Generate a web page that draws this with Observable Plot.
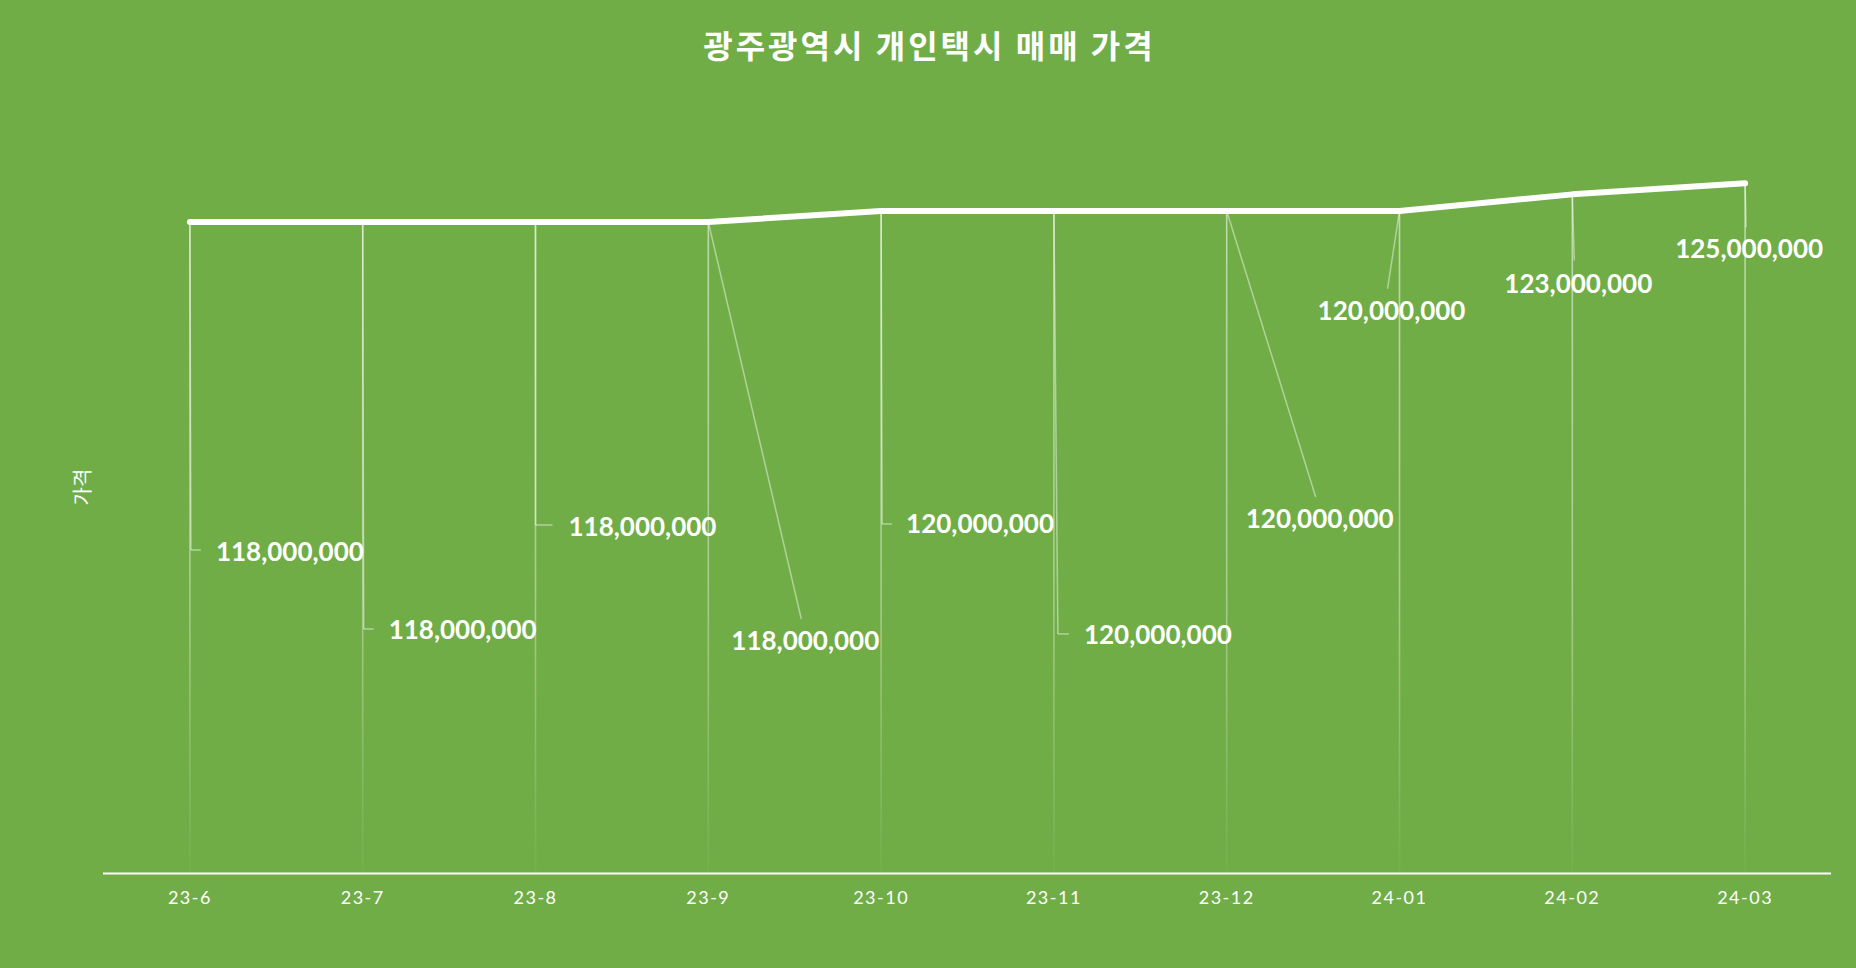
<!DOCTYPE html>
<html><head><meta charset="utf-8">
<script src="https://cdn.jsdelivr.net/npm/d3@7"></script>
<script src="https://cdn.jsdelivr.net/npm/@observablehq/plot@0.6"></script>
<style>
html,body{margin:0;padding:0;background:#70AD47;}
#chart{width:1856px;height:968px;background:#70AD47;overflow:hidden;}
#title{height:88px;line-height:88px;text-align:center;color:#fff;font-family:"Noto Sans CJK KR",sans-serif;font-weight:700;font-size:32px;letter-spacing:3px;padding-left:3px;}
[aria-label="x-axis tick label"] text{letter-spacing:1.5px;}
</style></head><body>
<div id="chart"><div id="title"></div></div>
<script>
const title = "광주광역시 개인택시 매매 가격";
const yLabel = "가격";
const months = ["23-6","23-7","23-8","23-9","23-10","23-11","23-12","24-01","24-02","24-03"];
const prices = [118000000,118000000,118000000,118000000,120000000,120000000,120000000,120000000,123000000,125000000];

// label layout: pixel offsets from each data point (styling only)
const labelAnchor = ["start","start","start","middle","start","start","middle","middle","middle","middle"];
const labelDx = [26,26,33,97,25,30,93,-8,6,4];
const labelDy = [331,409,306,420,314,425,309,101,90,66];
const leaderDx = [1,1,0,93,1,4,89,-12,2,1];
const leaderDy = [328,407,303,397,313,423,286,78,66,44];
const tickDx = [11,11,17,null,11,15,null,null,null,null];

document.getElementById("title").textContent = title;

const data = months.map((m, i) => ({month: m, price: prices[i], i}));
const fmt = d3.format(",");

const shift = (fx) => (index, scales, values, dim, ctx, next) => {
  const v = {...values};
  for (const [k, off] of Object.entries(fx)) {
    v[k] = Float64Array.from(values[k], (p, i) => p + (typeof off === "function" ? off(i) : off[i]));
  }
  return next(index, scales, v, dim, ctx);
};

const textOpts = {
  x: "month", y: "price", text: d => fmt(d.price),
  fill: "#fff", fontSize: 26, fontWeight: "bold", fontFamily: "Lato, sans-serif",
  render: shift({x: labelDx, y: labelDy})
};

const plot = Plot.plot({
  width: 1856, height: 880,
  marginLeft: 103, marginRight: 25, marginTop: 12, marginBottom: 95,
  style: {background: "transparent", color: "#fff", fontFamily: "Lato, sans-serif", overflow: "visible"},
  x: {type: "point", domain: months, padding: 0.5, round: false},
  y: {domain: [0, 140000000]},
  marks: [
    Plot.axisX({tickSize: 0, tickPadding: 18, fontSize: 18, label: null}),
    Plot.axisY({ticks: [], label: yLabel, labelAnchor: "center", labelArrow: false, labelOffset: 28, fontSize: 20, fontFamily: "Noto Sans CJK KR, sans-serif"}),
    Plot.ruleX(data, {x: "month", y1: 0, y2: "price", stroke: "url(#dropFade)", strokeWidth: 1.6}),
    Plot.ruleY([0], {stroke: "#fff", strokeWidth: 2}),
    Plot.link(data, {x1: "month", y1: "price", x2: "month", y2: "price", stroke: "#fff", strokeOpacity: 0.45, strokeWidth: 1.5,
      render: shift({x2: leaderDx, y2: leaderDy})}),
    Plot.link(data, {filter: d => tickDx[d.i] != null, x1: "month", y1: "price", x2: "month", y2: "price", stroke: "#fff", strokeOpacity: 0.45, strokeWidth: 1.5,
      render: shift({x1: leaderDx, y1: leaderDy, x2: i => tickDx[i] ?? 0, y2: leaderDy})}),
    Plot.line(data, {x: "month", y: "price", stroke: "#fff", strokeWidth: 6, strokeLinecap: "round", strokeLinejoin: "round"}),
    Plot.text(data, {...textOpts, filter: d => labelAnchor[d.i] === "start", textAnchor: "start"}),
    Plot.text(data, {...textOpts, filter: d => labelAnchor[d.i] === "middle", textAnchor: "middle"})
  ]
});

const ys = plot.scale("y");
const y0 = ys.apply(0), yTop = ys.apply(d3.max(prices));
const defs = document.createElementNS("http://www.w3.org/2000/svg", "defs");
defs.innerHTML = `<linearGradient id="dropFade" gradientUnits="userSpaceOnUse" x1="0" x2="0" y1="${yTop}" y2="${y0}">
<stop offset="0" stop-color="#fff" stop-opacity="0.55"/>
<stop offset="0.6" stop-color="#fff" stop-opacity="0.38"/>
<stop offset="1" stop-color="#fff" stop-opacity="0.03"/></linearGradient>`;
plot.prepend(defs);
document.getElementById("chart").appendChild(plot);
</script>
</body></html>
